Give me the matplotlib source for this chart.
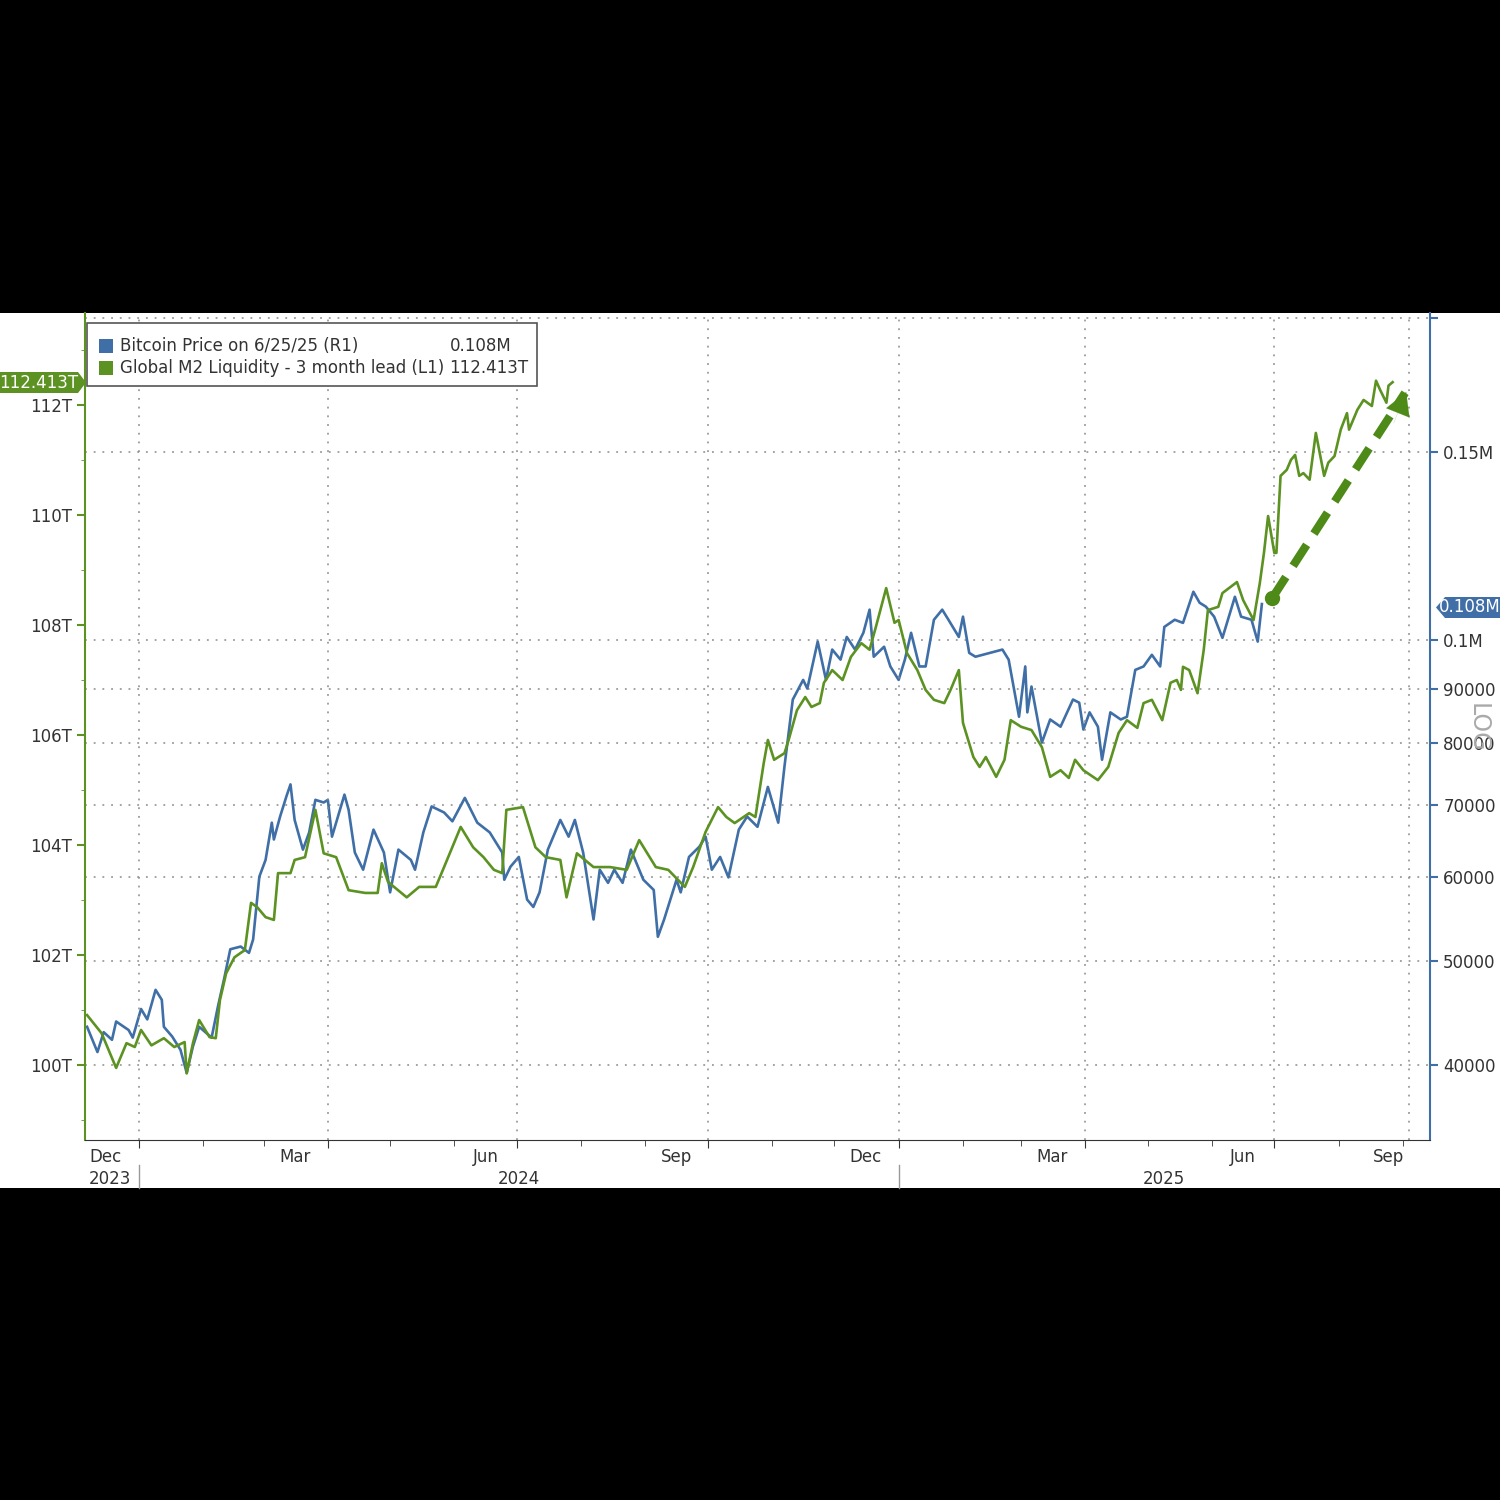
import numpy as np
import matplotlib
matplotlib.use("Agg")
import matplotlib.pyplot as plt
import matplotlib.dates as mdates
from matplotlib.patches import Rectangle, Polygon

# ---------------- data ----------------
base = np.datetime64("2024-01-01")

btc_days = [-25,-20,-17,-13,-11,-5,-3,1,4,8,11,12,16,20,23,26,29,35,38,41,44,49,53,55,58,61,64,65,68,71,73,75,79,82,85,89,91,93,99,101,104,108,113,118,121,125,131,133,137,141,147,151,157,163,169,175,176,179,183,187,190,193,197,203,207,210,214,219,222,226,229,233,237,243,248,250,253,259,261,265,270,273,276,280,284,289,293,298,303,308,311,315,320,322,327,331,334,338,341,345,349,352,354,359,362,366,369,372,376,379,383,387,390,395,397,400,403,410,416,419,424,427,428,430,435,439,444,450,453,455,458,462,464,468,473,476,480,484,488,492,494,499,503,508,511,514,518,522,528,531,536,539,541]
btc_k = [43.4,41.1,42.9,42.2,43.9,43.1,42.4,45.1,44.1,47.0,46.0,43.4,42.5,41.3,39.3,41.6,43.4,42.4,45.3,48.1,51.3,51.6,50.9,52.4,60.0,62.2,67.4,65.0,68.3,71.3,73.2,67.8,63.6,66.0,70.8,70.4,70.8,65.4,71.6,69.3,63.2,60.9,66.4,63.2,58.0,63.6,62.2,60.9,66.0,69.8,68.9,67.6,71.1,67.4,66.0,63.2,59.6,61.3,62.6,57.1,56.2,58.0,63.6,67.8,65.4,67.8,63.2,54.7,60.9,59.2,60.9,59.2,63.6,59.6,58.3,52.7,54.7,59.6,58.0,62.6,64.0,65.4,60.9,62.6,59.9,66.4,68.3,66.8,72.8,67.4,76.1,87.9,91.7,90.0,99.6,91.7,97.9,95.8,100.6,97.9,101.5,106.7,96.4,98.5,94.4,91.7,95.8,101.5,94.4,94.4,104.4,106.7,104.4,100.6,105.1,97.2,96.4,97.2,97.9,95.8,84.7,94.4,85.5,90.4,80.1,84.2,82.9,87.9,87.3,82.4,85.5,82.9,77.2,85.5,84.2,84.7,93.7,94.4,96.8,94.4,102.8,104.4,103.7,110.9,108.3,107.4,105.1,100.4,109.7,105.1,104.4,99.6,108.0]

m2_days = [-25,-18,-11,-6,-2,1,6,12,17,22,23,26,29,34,37,39,42,46,49,51,54,57,61,65,67,73,75,80,85,89,95,101,109,115,117,120,129,135,143,147,155,161,166,171,175,177,185,191,196,203,206,211,219,227,235,241,249,255,263,267,273,279,283,287,294,297,301,303,306,311,313,317,321,324,328,330,334,339,343,348,352,355,360,364,366,370,375,379,383,388,391,395,397,402,405,408,413,417,420,425,430,435,439,444,448,451,455,462,467,472,476,481,484,488,493,497,500,502,503,506,510,513,515,520,522,529,532,537,540,542,544,547,548,550,553,555,557,559,561,564,567,571,573,576,579,582,583,587,590,594,596,598,601,602,604]
m2_t = [100.91,100.58,99.95,100.40,100.33,100.64,100.36,100.49,100.33,100.42,99.85,100.40,100.82,100.51,100.49,101.18,101.67,101.96,102.04,102.09,102.95,102.87,102.69,102.64,103.49,103.49,103.73,103.78,104.64,103.85,103.78,103.18,103.13,103.13,103.67,103.33,103.05,103.24,103.24,103.60,104.33,103.96,103.78,103.55,103.49,104.64,104.69,103.96,103.78,103.73,103.05,103.85,103.60,103.60,103.55,104.09,103.60,103.55,103.24,103.60,104.24,104.69,104.51,104.40,104.58,104.51,105.49,105.91,105.55,105.67,105.91,106.45,106.69,106.51,106.58,106.95,107.18,107.00,107.42,107.67,107.55,107.96,108.67,108.04,108.09,107.49,107.18,106.82,106.64,106.58,106.82,107.18,106.22,105.60,105.42,105.60,105.24,105.55,106.27,106.15,106.09,105.78,105.24,105.36,105.22,105.55,105.36,105.18,105.42,106.04,106.27,106.13,106.58,106.64,106.27,106.95,107.00,106.82,107.24,107.18,106.76,107.55,108.27,108.33,108.58,108.78,108.45,108.09,108.76,109.31,109.98,109.31,109.31,110.71,110.82,111.00,111.09,110.71,110.76,110.64,111.49,110.71,110.95,111.07,111.55,111.85,111.55,111.91,112.09,111.98,112.44,112.27,112.04,112.35,112.413]

arrow_days = [546, 610]
arrow_t = [108.49, 112.22]

left_ticks = [100, 102, 104, 106, 108, 110, 112]
right_ticks = [40000, 50000, 60000, 70000, 80000, 90000, 100000, 150000, 200000]
right_labels = ["40000", "50000", "60000", "70000", "80000", "90000", "0.1M", "0.15M", ""]
month_labels = ["Dec", "Mar", "Jun", "Sep", "Dec", "Mar", "Jun", "Sep"]
month_label_dates = ["2023-12-16", "2024-03-16", "2024-06-16", "2024-09-16",
                     "2024-12-16", "2025-03-16", "2025-06-16", "2025-08-25"]
year_labels = ["2023", "2024", "2025"]
year_label_dates = ["2023-12-18", "2024-07-02", "2025-05-09"]

BLUE = "#3f6fa6"
GREEN = "#5c9222"
GRID = "#8a8a8a"
FS = 12

btc_x = base + np.array(btc_days).astype("timedelta64[D]")
m2_x = base + np.array(m2_days).astype("timedelta64[D]")
arr_x = base + np.array(arrow_days).astype("timedelta64[D]")

fig = plt.figure(figsize=(15, 15), dpi=100, facecolor="black")
fig.patches.append(Rectangle((0, 1 - 1188 / 1500), 1, (1188 - 313) / 1500,
                             transform=fig.transFigure, facecolor="white", zorder=-5))

ax = fig.add_axes([85 / 1500, 1 - 1140 / 1500, (1430 - 85) / 1500, (1140 - 313) / 1500])
ax.set_facecolor("white")
ax2 = ax.twinx()

x0 = base + np.timedelta64(-26, "D")
x1 = base + np.timedelta64(622, "D")
ax.set_xlim(x0, x1)
ax.set_ylim(98.64, 113.67)
ax2.set_yscale("log")
ax2.set_ylim(34000, 202300)

# grid
for v in right_ticks:
    ax2.axhline(v, color=GRID, lw=1.1, ls=(0, (1.2, 4.5)), zorder=0)
for d in ["2024-01-01", "2024-04-01", "2024-07-01", "2024-10-01", "2025-01-01",
          "2025-04-01", "2025-07-01", "2025-09-04"]:
    ax.axvline(np.datetime64(d), color=GRID, lw=1.1, ls=(0, (1.2, 4.5)), zorder=0)

ax.plot(m2_x, m2_t, color=GREEN, lw=1.9, zorder=3)
ax2.plot(btc_x, np.array(btc_k) * 1000, color=BLUE, lw=1.9, zorder=2)

ax.set_zorder(1)
ax.patch.set_visible(False)
ax.plot(arr_x, arrow_t, color="#4e8a18", lw=6, ls=(0, (3, 1.6)), zorder=5,
        solid_capstyle="butt")
ax.plot(arr_x[:1], arrow_t[:1], "o", color="#4e8a18", ms=10, zorder=6)
ax.annotate("", xy=(arr_x[1] + np.timedelta64(1, "D"), arrow_t[1] + 0.06),
            xytext=(arr_x[1] - np.timedelta64(6, "D"), arrow_t[1] - 0.6),
            arrowprops=dict(arrowstyle="-|>,head_width=0.9,head_length=1.6",
                            color="#4e8a18", lw=0.1), zorder=6)

# left axis
ax.set_yticks(left_ticks)
ax.set_yticklabels([f"{v}T" for v in left_ticks], fontsize=FS, color="#333333")
ax.set_yticks(np.arange(99, 114, 1), minor=True)
ax.tick_params(axis="y", which="major", direction="out", length=6, color=GREEN, width=1.5)
ax.tick_params(axis="y", which="minor", direction="out", length=3, color=GREEN)
ax.spines["left"].set_color(GREEN)
ax.spines["left"].set_linewidth(1.5)
for s in ["top", "right"]:
    ax.spines[s].set_visible(False)
ax.spines["bottom"].set_color("#333333")

# right axis
ax2.set_yticks(right_ticks)
ax2.set_yticklabels(right_labels, fontsize=FS, color="#333333")
ax2.yaxis.set_minor_locator(matplotlib.ticker.NullLocator())
ax2.tick_params(axis="y", direction="out", length=6, color=BLUE, width=1.5)
ax2.spines["right"].set_color(BLUE)
ax2.spines["right"].set_linewidth(1.5)
for s in ["top", "left", "bottom"]:
    ax2.spines[s].set_visible(False)

# x axis
ax.xaxis.set_major_locator(mdates.MonthLocator(bymonth=[1, 4, 7, 10]))
ax.xaxis.set_minor_locator(mdates.MonthLocator())
ax.xaxis.set_major_formatter(matplotlib.ticker.NullFormatter())
ax.tick_params(axis="x", which="major", length=6, color="#333333")
ax.tick_params(axis="x", which="minor", length=4, color="#333333")
for lab, d in zip(month_labels, month_label_dates):
    ax.text(np.datetime64(d), -0.01, lab, transform=ax.get_xaxis_transform(),
            ha="center", va="top", fontsize=FS, color="#333333")
for lab, d in zip(year_labels, year_label_dates):
    ax.text(np.datetime64(d), -0.036, lab, transform=ax.get_xaxis_transform(),
            ha="center", va="top", fontsize=FS, color="#333333")
for d in ["2024-01-01", "2025-01-01"]:
    ax.plot([np.datetime64(d)] * 2, [-0.03, -0.058], transform=ax.get_xaxis_transform(),
            color="#999999", lw=1, clip_on=False)

# LOG label
fig.text(1478 / 1500, 1 - 728 / 1500, "LOG", rotation=270, fontsize=17,
         color="#aaaaaa", ha="center", va="center")

# legend box
fig.patches.append(Rectangle((87 / 1500, 1 - 386 / 1500), 450 / 1500, 63 / 1500,
                             transform=fig.transFigure, facecolor="white",
                             edgecolor="#555555", lw=1.2, zorder=10))
for i, (lab, val, c) in enumerate([("Bitcoin Price on 6/25/25 (R1)", "0.108M", BLUE),
                                   ("Global M2 Liquidity - 3 month lead (L1)", "112.413T", GREEN)]):
    yy = 1 - (346 + 22 * i) / 1500
    fig.patches.append(Rectangle((99 / 1500, yy - 7 / 1500), 14 / 1500, 14 / 1500,
                                 transform=fig.transFigure, facecolor=c, zorder=11))
    fig.text(120 / 1500, yy, lab, fontsize=FS, color="#333333", va="center", zorder=12)
    fig.text(528 / 1500 if i else 512 / 1500, yy, val, fontsize=FS, color="#333333",
             va="center", ha="right", zorder=12)

# value tags
fig.patches.append(Rectangle((0, 1 - 393 / 1500), 78 / 1500, 21 / 1500,
                             transform=fig.transFigure, facecolor=GREEN, zorder=10))
fig.patches.append(Polygon([(78 / 1500, 1 - 393 / 1500), (78 / 1500, 1 - 372 / 1500),
                            (86 / 1500, 1 - 382.5 / 1500)], closed=True,
                           transform=fig.transFigure, facecolor=GREEN, zorder=10))
fig.text(39 / 1500, 1 - 382.5 / 1500, "112.413T", fontsize=FS, color="white",
         ha="center", va="center", zorder=11)
fig.patches.append(Rectangle((1445 / 1500, 1 - 618 / 1500), 55 / 1500, 21 / 1500,
                             transform=fig.transFigure, facecolor=BLUE, zorder=10))
fig.patches.append(Polygon([(1445 / 1500, 1 - 618 / 1500), (1445 / 1500, 1 - 597 / 1500),
                            (1436 / 1500, 1 - 607.5 / 1500)], closed=True,
                           transform=fig.transFigure, facecolor=BLUE, zorder=10))
fig.text(1470 / 1500, 1 - 607.5 / 1500, "0.108M", fontsize=FS, color="white",
         ha="center", va="center", zorder=11)

fig.savefig("out.png", dpi=100, facecolor="black")
